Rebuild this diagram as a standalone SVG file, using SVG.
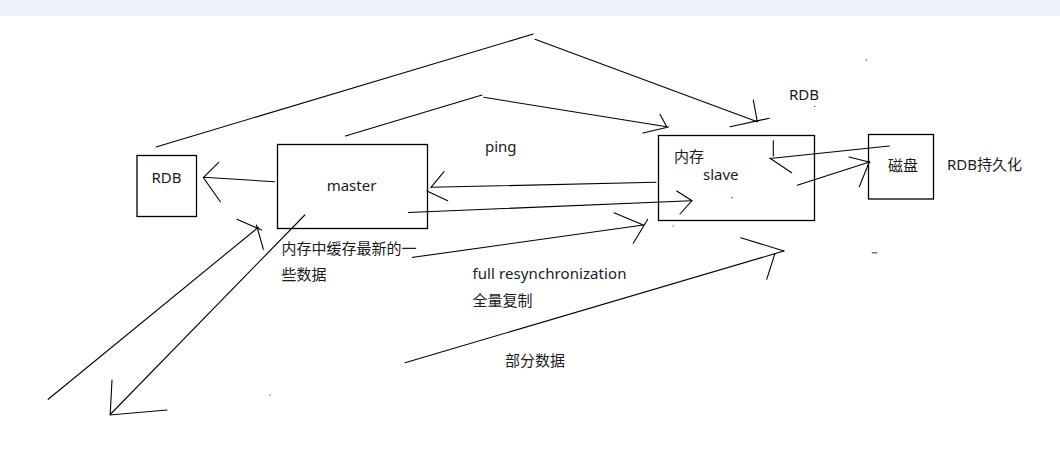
<svg xmlns="http://www.w3.org/2000/svg" width="1060" height="449" viewBox="0 0 1060 449">
<style>
.ln{stroke:#000;stroke-width:1.1;fill:none;stroke-linecap:round}
.box{stroke:#000;stroke-width:1.3;fill:#fff}
.t{font-family:"Noto Sans","Noto Sans CJK SC",sans-serif;font-size:15px;fill:#1a1a1a}
.dot{fill:#333}
</style>
<rect x="0" y="0" width="1060" height="449" fill="#fff"/>
<rect x="0" y="0" width="1060" height="16" fill="#edf1f8"/>
<g id="rdb-master">
<rect class="box" x="137" y="155.5" width="59.5" height="61"/>
<text class="t" x="166.5" y="183" text-anchor="middle">RDB</text>
</g>
<g id="master">
<rect class="box" x="277.5" y="144.5" width="150" height="84"/>
<text class="t" x="351.5" y="191" text-anchor="middle">master</text>
</g>
<g id="slave">
<rect class="box" x="658.5" y="135.5" width="156" height="85"/>
<text class="t" x="674" y="162">内存</text>
<text class="t" x="703" y="179.5">slave</text>
</g>
<g id="disk">
<rect class="box" x="868.5" y="134.5" width="65" height="64.5"/>
<text class="t" x="888" y="170.5">磁盘</text>
</g>
<g id="labels">
<text class="t" x="485" y="152">ping</text>
<text class="t" x="789" y="99.5">RDB</text>
<text class="t" x="947" y="170">RDB持久化</text>
<text class="t" x="281.5" y="254">内存中缓存最新的一</text>
<text class="t" x="281.5" y="280">些数据</text>
<text class="t" x="472.5" y="278.5" textLength="154" lengthAdjust="spacing">full resynchronization</text>
<text class="t" x="472.5" y="305.5">全量复制</text>
<text class="t" x="505" y="365.5">部分数据</text>
</g>
<g id="connectors">
<!-- master -> RDB -->
<polyline class="ln" points="274.5,181.7 203.5,177.3"/>
<polyline class="ln" points="218.7,162.3 203.3,177.6 220.4,201.7"/>
<!-- big top arc to slave -->
<polyline class="ln" points="156,147 533.3,34"/>
<polyline class="ln" points="535,39.3 757.3,121.7"/>
<polyline class="ln" points="753.3,100 757.3,121.7"/>
<polyline class="ln" points="730,126.7 769.3,118.3"/>
<!-- second top arc to slave -->
<polyline class="ln" points="345.4,136 482,95"/>
<polyline class="ln" points="483.8,97.3 666.7,126.7"/>
<polyline class="ln" points="660,114.3 666.7,126.7"/>
<polyline class="ln" points="643,133 668.5,127"/>
<!-- slave -> master (ping) -->
<polyline class="ln" points="656,182.3 431,187.3"/>
<polyline class="ln" points="444,171.7 431,187.3"/>
<polyline class="ln" points="427,191 447.7,200.7"/>
<!-- master -> slave -->
<polyline class="ln" points="408.3,212.5 691,200.7"/>
<polyline class="ln" points="676.7,191 692,200.7 680,214"/>
<!-- full resync -->
<polyline class="ln" points="413.3,257.3 643.3,225"/>
<polyline class="ln" points="614,212.7 643.3,225"/>
<polyline class="ln" points="633.3,243.3 647.7,219.3"/>
<!-- partial data -->
<polyline class="ln" points="405,362.7 784,251"/>
<polyline class="ln" points="740.7,237.7 784,251"/>
<polyline class="ln" points="766.7,279.3 775,253.3"/>
<!-- disk -> slave -->
<polyline class="ln" points="889.3,146 770,158.5"/>
<polyline class="ln" points="773.3,140.7 773.3,156"/>
<polyline class="ln" points="770,158.3 791.7,172.7"/>
<!-- slave -> disk -->
<polyline class="ln" points="797.3,185.3 869.5,162"/>
<polyline class="ln" points="859.3,186.7 869.3,161.7"/>
<polyline class="ln" points="849,157 870,162.3"/>
<!-- lower-left long lines -->
<polyline class="ln" points="48.2,399.3 258.3,227.3"/>
<polyline class="ln" points="237,219.3 261.7,230"/>
<polyline class="ln" points="256.5,225 263.4,249.3"/>
<polyline class="ln" points="304.8,215 110.2,414.5"/>
<polyline class="ln" points="112,380 110.2,415 167,410"/>
<!-- dash after text -->
<polyline class="ln" points="412.5,257.3 413.3,257.3"/>
</g>
<g id="specks">
<rect class="dot" x="865.5" y="59.5" width="1.5" height="1"/>
<rect class="dot" x="814" y="106" width="1.2" height="1"/>
<rect class="dot" x="731.5" y="197" width="1.2" height="1.2"/>
<rect class="dot" x="672.5" y="225.5" width="1.2" height="1"/>
<rect class="dot" x="269.5" y="394.5" width="1" height="1.2"/>
<rect class="dot" x="871.7" y="252.3" width="5.6" height="1"/>
</g>
</svg>
